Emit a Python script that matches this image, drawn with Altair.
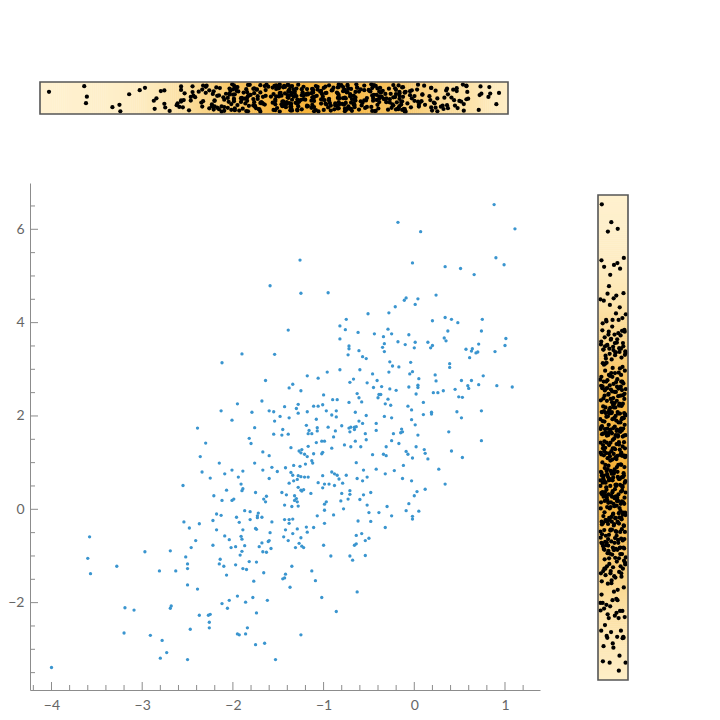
import altair as alt
import pandas as pd

# ---- scatter data (x, y), grouped by region of the plot ----
far_left = [(-3.58,-0.59),(-3.60,-1.05),(-3.57,-1.38),(-3.28,-1.22),(-2.97,-0.91),(-2.81,-1.32),
            (-3.19,-2.11),(-3.09,-2.16),(-3.20,-2.65),(-2.91,-2.70),(-2.78,-2.81),(-2.80,-3.19),(-4.00,-3.39)]
upper_left = [(-1.59,4.79),(-1.90,3.33),(-1.54,3.32),(-2.12,3.14),(-1.64,2.76)]
upper_mid = [(-0.18,6.15),(-1.26,5.34),(-0.02,5.28),(-1.25,4.63),(-0.95,4.64),(-0.09,4.53),(-0.11,4.48),
             (-0.21,4.34),(0.01,4.39),(-0.51,4.19),(-0.28,4.21),(-0.75,4.07),(-1.39,3.84),(-0.82,3.93),
             (-0.76,3.85),(-0.62,3.79),(-0.44,3.76),(-0.29,3.86),(-0.25,3.76),(-0.34,3.70),(-0.06,3.74),
             (-0.82,3.65),(-0.33,3.55),(-0.18,3.59),(-0.10,3.53),(0.01,3.58),(-0.72,3.50),(-0.72,3.44),
             (-0.35,3.47),(0.00,3.46),(-0.61,3.40),(-0.33,3.38),(-0.73,3.31),(-0.57,3.27),(-0.53,3.23)]
upper_right = [(0.88,6.53),(1.11,6.01),(0.07,5.95),(0.90,5.39),(0.99,5.24),(0.34,5.20),(0.51,5.16),
               (0.66,5.03),(0.04,4.51),(0.24,4.59),(0.20,4.04),(0.34,4.11),(0.41,4.07),(0.48,4.00),
               (0.75,4.07),(0.37,3.82),(0.74,3.82),(0.15,3.58),(0.20,3.51),(0.18,3.46),(0.33,3.67),
               (0.35,3.61),(1.01,3.66),(0.71,3.54),(1.00,3.51),(0.57,3.43),(0.64,3.44),(0.63,3.39),
               (0.68,3.35),(0.70,3.37),(0.89,3.38),(0.61,3.25)]
mid_left = [(-1.95,2.26),(-1.68,2.32),(-2.13,2.11),(-1.79,2.08),(-1.60,2.11),(-1.55,2.09),(-1.48,1.99),
            (-2.01,1.91),(-1.54,1.89),(-2.39,1.74),(-1.76,1.75),(-1.45,1.71),(-1.55,1.61),(-1.46,1.59),
            (-1.82,1.52),(-1.80,1.41),(-2.30,1.42),(-1.67,1.23),(-1.60,1.15),(-2.36,1.13),(-2.15,0.99),
            (-1.76,0.99),(-2.01,0.84),(-1.89,0.82),(-1.67,0.84),(-1.57,0.90),(-1.51,0.81),(-2.34,0.80),
            (-2.09,0.76),(-1.94,0.69),(-2.25,0.67),(-1.60,0.66),(-1.91,0.54),(-2.55,0.51),(-1.89,0.44),
            (-1.90,0.40),(-2.07,0.41),(-1.75,0.36),(-1.46,0.36),(-2.21,0.29),(-1.63,0.28),(-1.66,0.22),
            (-1.64,0.16),(-2.12,0.19),(-2.01,0.19),(-1.99,0.22),(-1.43,0.09),(-1.87,-0.03),(-1.81,-0.05),
            (-2.18,-0.10),(-2.13,-0.13),(-1.96,-0.17),(-1.72,-0.08),(-1.73,-0.14),(-1.73,-0.18),
            (-1.68,-0.17),(-1.81,-0.22),(-1.93,-0.28),(-2.22,-0.24),(-2.54,-0.27),(-2.37,-0.31),
            (-1.57,-0.27),(-2.48,-0.40),(-2.18,-0.44),(-1.75,-0.41),(-1.74,-0.43),(-1.89,-0.44)]
center_top = [(-0.27,3.16),(-0.24,3.07),(-0.17,3.05),(-0.04,3.15),(-0.02,2.95),(-0.05,2.90),(-0.82,2.99),
              (-0.96,2.94),(-0.60,2.99),(-0.46,2.90),(-0.28,2.94),(-1.18,2.86),(-1.06,2.81),(-0.67,2.79),
              (-0.71,2.72),(-0.52,2.71),(-0.41,2.76),(-0.36,2.63),(-1.34,2.68),(-1.38,2.60),(-1.25,2.54),
              (-0.45,2.61),(-0.27,2.58),(-0.20,2.55),(-0.06,2.62),(-1.00,2.45),(-0.63,2.48),(-0.61,2.39),
              (-0.58,2.30),(-0.39,2.46),(-0.37,2.46),(-0.40,2.39),(-0.29,2.36),(-0.90,2.35),(-0.85,2.35),
              (-0.72,2.29),(-0.32,2.26),(-0.26,2.23),(-1.28,2.25),(-1.30,2.16),(-1.28,2.06),(-1.11,2.21),
              (-1.06,2.21),(-1.01,2.24),(-1.18,2.09),(-0.97,2.11),(-0.86,2.11),(-0.91,2.02),(-0.86,1.98),
              (-0.07,2.21),(-0.03,2.13),(-0.65,2.08),(-1.43,2.20),(-1.38,1.96),(-1.08,1.93),(-0.53,2.01),
              (-0.33,1.99),(-0.25,1.96),(-0.03,1.92),(-0.61,1.89),(-0.57,1.84),(-0.42,1.84),(-1.19,1.80),
              (-1.07,1.75),(-0.95,1.76),(-0.87,1.68),(-0.80,1.79),(-0.72,1.74),(-0.70,1.76),(-0.66,1.76),
              (-0.64,1.77),(-0.71,1.66),(-0.66,1.71),(-1.16,1.69),(-1.17,1.62),(-1.13,1.62),(-1.07,1.68),
              (-0.14,1.72),(-0.13,1.66),(-0.15,1.64),(-0.23,1.62),(-0.54,1.62),(-1.39,1.61),(-0.89,1.55),
              (-0.53,1.49),(-0.42,1.69),(-1.02,1.46),(-0.99,1.46),(-1.08,1.43),(-0.65,1.46),(-0.77,1.38),
              (-0.70,1.34),(-0.59,1.34),(-0.25,1.47),(-0.17,1.41),(-0.31,1.34),(-1.36,1.32)]
center_low = [(-1.17,1.35),(-1.27,1.25),(-1.24,1.28),(-1.25,1.21),(-1.21,1.18),(-1.18,1.13),(-1.11,1.19),
              (-1.01,1.22),(-1.02,1.19),(-0.91,1.31),(-0.46,1.17),(-0.34,1.18),(-0.31,1.15),(-0.09,1.24),
              (-0.07,1.18),(-0.02,1.10),(-1.13,1.04),(-1.12,0.99),(-1.20,0.97),(-1.33,0.94),(-1.42,0.89),
              (-1.26,0.92),(-0.64,1.00),(-0.42,0.86),(-0.56,0.84),(-0.12,0.94),(-1.36,0.79),(-1.34,0.73),
              (-1.28,0.72),(-1.25,0.70),(-1.21,0.69),(-1.17,0.69),(-1.29,0.64),(-1.38,0.56),(-1.33,0.61),
              (-1.01,0.72),(-0.91,0.80),(-0.88,0.76),(-0.85,0.73),(-0.75,0.73),(-0.32,0.76),(-0.22,0.83),
              (-0.83,0.65),(-0.79,0.56),(-0.99,0.54),(-0.94,0.54),(-1.06,0.57),(-1.01,0.46),(-0.88,0.51),
              (-0.63,0.66),(-0.57,0.61),(-0.52,0.69),(-0.13,0.66),(-0.03,0.61),(-1.28,0.47),(-1.25,0.41),
              (-1.22,0.42),(-1.14,0.34),(-1.24,0.39),(-1.32,0.29),(-1.30,0.23),(-1.32,0.19),(-1.29,0.16),
              (-1.41,0.31),(-1.28,0.07),(-1.35,0.06),(-0.71,0.40),(-0.71,0.32),(-0.80,0.34),(-0.60,0.21),
              (-0.56,0.31),(-0.48,0.36),(-0.73,0.22),(-0.81,0.18),(-0.97,0.16),(-0.99,0.11),(-0.99,-0.02),
              (-0.78,0.01),(-0.52,0.09),(-0.30,0.06),(-0.06,0.12),(0.00,0.29),(-0.50,-0.07),(-0.39,-0.07),
              (-0.62,-0.25),(-0.48,-0.26),(-0.25,-0.14),(-0.09,-0.03),(-0.02,-0.15),(-0.02,-0.21),
              (-1.07,-0.14),(-0.89,-0.12),(-1.43,-0.22),(-1.38,-0.22),(-1.34,-0.21),(-1.38,-0.30),(-0.99,-0.30)]
mid_right = [(0.39,3.12),(0.39,3.04),(0.23,2.88),(0.05,2.80),(0.24,2.75),(0.52,2.76),(0.63,2.76),
             (0.76,2.86),(0.04,2.66),(0.04,2.61),(0.21,2.50),(0.26,2.50),(0.32,2.54),(0.45,2.57),
             (0.59,2.65),(0.60,2.59),(0.71,2.67),(0.91,2.65),(1.08,2.62),(0.02,2.47),(0.49,2.41),
             (0.53,2.40),(0.10,2.29),(0.19,2.08),(0.19,2.04),(0.10,2.03),(0.47,2.09),(0.52,1.96),
             (0.74,2.11),(0.01,1.81),(0.04,1.59),(0.38,1.66),(0.74,1.47),(0.02,1.34),(0.11,1.28),
             (0.12,1.20),(0.15,1.08),(0.41,1.25),(0.53,1.11),(0.27,0.86),(0.34,0.54),(0.12,0.43),
             (0.03,0.38),(0.05,-0.04)]
low_left = [(-1.59,-0.50),(-1.42,-0.44),(-2.09,-0.57),(-2.04,-0.65),(-1.91,-0.58),(-1.90,-0.64),
            (-2.41,-0.67),(-2.46,-0.82),(-2.69,-0.89),(-2.22,-0.77),(-2.02,-0.82),(-1.97,-0.80),
            (-1.87,-0.78),(-1.90,-0.90),(-1.92,-0.98),(-1.71,-0.80),(-1.68,-0.72),(-1.67,-0.91),
            (-1.63,-0.92),(-1.61,-0.69),(-1.60,-0.67),(-1.58,-0.84),(-1.44,-0.59),(-1.39,-0.67),
            (-2.52,-1.02),(-2.50,-1.17),(-2.50,-1.27),(-2.63,-1.32),(-2.14,-1.07),(-2.15,-1.17),
            (-2.10,-1.22),(-1.97,-1.19),(-1.89,-1.27),(-1.85,-1.29),(-1.82,-1.12),(-1.74,-1.13),
            (-2.07,-1.41),(-1.66,-1.36),(-1.42,-1.39),(-1.43,-1.47),(-1.45,-1.49),(-1.37,-1.67),
            (-1.77,-1.54),(-2.50,-1.62),(-2.39,-1.71),(-2.68,-2.07),(-2.69,-2.12),(-2.12,-2.02),
            (-2.04,-1.95),(-1.95,-1.86),(-1.86,-1.99),(-2.06,-2.12),(-1.78,-1.89),(-1.62,-1.95),
            (-2.37,-2.27),(-2.27,-2.27),(-2.25,-2.25),(-1.74,-2.22),(-2.26,-2.42),(-2.26,-2.54),
            (-2.47,-2.57),(-1.84,-2.54),(-1.95,-2.67),(-1.93,-2.69),(-1.86,-2.67),(-1.75,-2.90),
            (-1.65,-2.87),(-2.73,-3.07),(-2.50,-3.22),(-1.53,-3.22)]
low_mid = [(-1.29,-0.42),(-1.34,-0.52),(-1.19,-0.38),(-1.11,-0.39),(-1.18,-0.49),(-1.25,-0.61),
           (-1.27,-0.73),(-1.24,-0.79),(-1.22,-0.82),(-1.31,-0.82),(-1.00,-0.77),(-0.32,-0.39),
           (-0.64,-0.56),(-0.58,-0.52),(-0.54,-0.67),(-0.50,-0.62),(-0.66,-0.77),(-0.64,-0.74),
           (-0.92,-1.00),(-0.71,-1.00),(-0.68,-1.09),(-0.54,-0.99),(-1.35,-1.22),(-1.13,-1.32),
           (-1.09,-1.53),(-0.63,-1.77),(-1.02,-1.89),(-0.86,-2.19),(-1.25,-2.69)]

regions = [far_left, upper_left, upper_mid, upper_right, mid_left, center_top,
           center_low, mid_right, low_left, low_mid]
pts = [p for r in regions for p in r]
df = pd.DataFrame({"x": [p[0] for p in pts], "y": [p[1] for p in pts]})
df["i"] = range(len(df))

# ---- axis ticks ----
x_major_ticks = [-4, -3, -2, -1, 0, 1]
x_minor_ticks = [-4.2, -3.8, -3.6, -3.4, -3.2, -2.8, -2.6, -2.4, -2.2, -1.8, -1.6, -1.4,
                 -1.2, -0.8, -0.6, -0.4, -0.2, 0.2, 0.4, 0.6, 0.8, 1.2]
y_major_ticks = [-2, 0, 2, 4, 6]
y_minor_ticks = [-3.5, -3, -2.5, -1.5, -1, -0.5, 0.5, 1, 1.5, 2.5, 3, 3.5, 4.5, 5, 5.5, 6.5]

# ---- style ----
POINT_BLUE = "#3A95CF"
AXIS_GRAY = "#8c8c8c"
LABEL_GRAY = "#666666"
CREAM, ORANGE = "#FFF2D2", "#F6B339"
BOX_GRAY = "#555555"
FONT = "Lato"

# ---- scales (pixel ranges inside the single view) ----
main_x = alt.Scale(domain=[-4.237, 1.386], range=[0, 510], nice=False, zero=False)
main_y = alt.Scale(domain=[-3.872, 6.992], range=[620, 113], nice=False, zero=False)

xlo, xhi = df.x.min(), df.x.max()
xp = 0.02 * (xhi - xlo)
xlo, xhi = xlo - xp, xhi + xp
ylo, yhi = df.y.min(), df.y.max()
yp = 0.02 * (yhi - ylo)
ylo, yhi = ylo - yp, yhi + yp

top_x = alt.Scale(domain=[xlo, xhi], range=[10, 478], nice=False, zero=False)
top_y = alt.Scale(domain=[0, 1], range=[44, 12], nice=False, zero=False)
right_x = alt.Scale(domain=[0, 1], range=[568, 598], nice=False, zero=False)
right_y = alt.Scale(domain=[ylo, yhi], range=[610, 125], nice=False, zero=False)
dens_color = alt.Scale(domain=[0, 1], range=[CREAM, ORANGE])

# ---- main scatter ----
axis_common = dict(title=None, ticks=False, tickSize=0, grid=False, domainColor=AXIS_GRAY,
                   domainWidth=1, labelColor=LABEL_GRAY, labelFont=FONT, labelFontSize=14,
                   format="d")
scatter = alt.Chart(df).mark_circle(size=11, color=POINT_BLUE, opacity=1).encode(
    x=alt.X("x:Q", scale=main_x, axis=alt.Axis(values=x_major_ticks, labelPadding=8, **axis_common)),
    y=alt.Y("y:Q", scale=main_y, axis=alt.Axis(values=y_major_ticks, labelPadding=6, **axis_common)),
)
xt_major = alt.Chart(pd.DataFrame({"x": x_major_ticks})).mark_rule(color=AXIS_GRAY).encode(
    x=alt.X("x:Q", scale=main_x, title=None), y=alt.value(620), y2=alt.value(612))
xt_minor = alt.Chart(pd.DataFrame({"x": x_minor_ticks})).mark_rule(color=AXIS_GRAY).encode(
    x=alt.X("x:Q", scale=main_x, title=None), y=alt.value(620), y2=alt.value(615))
yt_major = alt.Chart(pd.DataFrame({"y": y_major_ticks})).mark_rule(color=AXIS_GRAY).encode(
    y=alt.Y("y:Q", scale=main_y, title=None), x=alt.value(0), x2=alt.value(8))
yt_minor = alt.Chart(pd.DataFrame({"y": y_minor_ticks})).mark_rule(color=AXIS_GRAY).encode(
    y=alt.Y("y:Q", scale=main_y, title=None), x=alt.value(0), x2=alt.value(5))
main = alt.layer(scatter, xt_major, xt_minor, yt_major, yt_minor)

one_row = pd.DataFrame({"k": [0]})
STEPS = 240
JITTER = "0.07 + 0.86 * ((datum.i * 0.6180339887 + 0.31) % 1)"

# ---- top marginal strip (x values) ----
hx = (xhi - xlo) / (STEPS - 1) * 0.6
top_bg = alt.Chart(df).transform_density(
    "x", as_=["v", "d"], extent=[xlo, xhi], steps=STEPS
).transform_joinaggregate(dm="max(d)").transform_calculate(
    dn="datum.d / datum.dm",
    v0=f"max(datum.v - {hx}, {xlo})",
    v1=f"min(datum.v + {hx}, {xhi})",
).mark_rect(strokeWidth=0).encode(
    x=alt.X("v0:Q", scale=top_x, axis=None), x2="v1:Q",
    y=alt.YDatum(0, type="quantitative", scale=top_y, axis=None), y2=alt.Y2Datum(1),
    color=alt.Color("dn:Q", scale=dens_color, legend=None),
)
top_pts = alt.Chart(df).transform_calculate(j=JITTER).mark_circle(
    size=18, color="black", opacity=1).encode(
    x=alt.X("x:Q", scale=top_x, axis=None), y=alt.Y("j:Q", scale=top_y, axis=None))
top_box = alt.Chart(one_row).mark_rect(fillOpacity=0, stroke=BOX_GRAY, strokeWidth=1.6).encode(
    x=alt.XDatum(xlo, type="quantitative", scale=top_x, axis=None), x2=alt.X2Datum(xhi),
    y=alt.YDatum(0, type="quantitative", scale=top_y, axis=None), y2=alt.Y2Datum(1))
top = alt.layer(top_bg, top_pts, top_box)

# ---- right marginal strip (y values) ----
hy = (yhi - ylo) / (STEPS - 1) * 0.6
right_bg = alt.Chart(df).transform_density(
    "y", as_=["v", "d"], extent=[ylo, yhi], steps=STEPS
).transform_joinaggregate(dm="max(d)").transform_calculate(
    dn="datum.d / datum.dm",
    v0=f"max(datum.v - {hy}, {ylo})",
    v1=f"min(datum.v + {hy}, {yhi})",
).mark_rect(strokeWidth=0).encode(
    y=alt.Y("v0:Q", scale=right_y, axis=None), y2="v1:Q",
    x=alt.XDatum(0, type="quantitative", scale=right_x, axis=None), x2=alt.X2Datum(1),
    color=alt.Color("dn:Q", scale=dens_color, legend=None),
)
right_pts = alt.Chart(df).transform_calculate(j=JITTER).mark_circle(
    size=18, color="black", opacity=1).encode(
    y=alt.Y("y:Q", scale=right_y, axis=None), x=alt.X("j:Q", scale=right_x, axis=None))
right_box = alt.Chart(one_row).mark_rect(fillOpacity=0, stroke=BOX_GRAY, strokeWidth=1.6).encode(
    y=alt.YDatum(ylo, type="quantitative", scale=right_y, axis=None), y2=alt.Y2Datum(yhi),
    x=alt.XDatum(0, type="quantitative", scale=right_x, axis=None), x2=alt.X2Datum(1))
right = alt.layer(right_bg, right_pts, right_box)

chart = alt.layer(main, top, right).resolve_scale(
    x="independent", y="independent"
).properties(
    width=600, height=620,
    autosize=alt.AutoSizeParams(type="none"),
    padding={"left": 22, "top": 62, "right": 10, "bottom": 22},
).configure_view(stroke=None)

chart.save("out.html", embed_options={"renderer": "svg", "actions": False})
